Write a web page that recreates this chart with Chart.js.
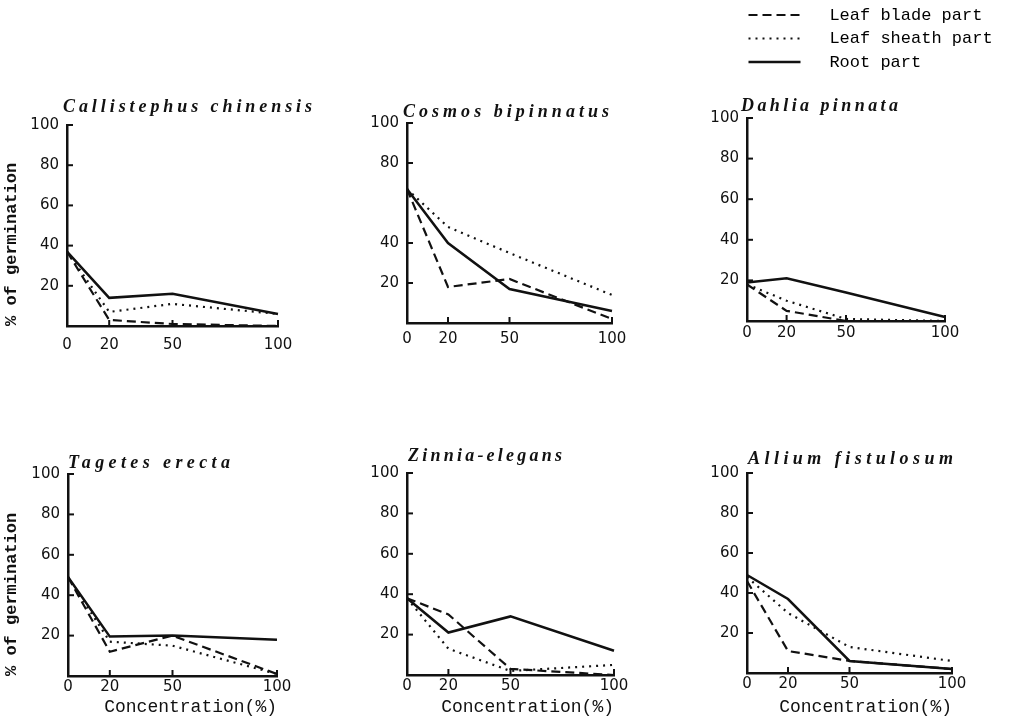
<!DOCTYPE html>
<html>
<head>
<meta charset="utf-8">
<script src="https://cdn.jsdelivr.net/npm/chart.js@4.4.1/dist/chart.umd.min.js"></script>
<style>
html, body { margin: 0; padding: 0; background: #fff; }
body { position: relative; width: 1010px; height: 717px; overflow: hidden; }
canvas { position: absolute; }
.title { position: absolute; white-space: nowrap; font: italic bold 18px "Liberation Serif", serif; color: #111; line-height: 20px; }
</style>
</head>
<body>
<script>
// concentration (%) on x, % of germination on y
const concentration = [0, 20, 50, 100];
const xTicks = [0, 20, 50, 100];
const yTicks = [20, 40, 60, 80, 100];
const yTicksCosmos = [20, 40, 80, 100];

const species = ['Callistephus chinensis', 'Cosmos bipinnatus', 'Dahlia pinnata',
                 'Tagetes erecta', 'Zinnia-elegans', 'Allium fistulosum'];
const seriesNames = ['Leaf blade part', 'Leaf sheath part', 'Root part'];

// one row per species, same order as above
const leafBlade = [
  [37, 3, 1, 0],
  [67, 18, 22, 2],
  [18, 5, 0, 0],
  [49, 12, 20, 1],
  [38, 30, 3, 0],
  [46, 11, 6, 2]
];
const leafSheath = [
  [37, 7, 11, 6],
  [67, 48, 35, 14],
  [18, 10, 1, 0],
  [49, 17, 15, 1],
  [38, 13, 2, 5],
  [48, 30, 13, 6]
];
const rootPart = [
  [37, 14, 16, 6],
  [67, 40, 17, 6],
  [19, 21, 14, 2],
  [49, 19.5, 20, 18],
  [38, 21, 29, 12],
  [49, 37, 6, 2]
];

const ink = '#111';
Chart.defaults.font.family = 'DejaVu Sans';
Chart.defaults.color = ink;

const lineStyles = [
  { borderDash: [9, 5], borderWidth: 2.2 },
  { borderDash: [2, 5], borderWidth: 2.2 },
  { borderDash: [], borderWidth: 2.5 }
];

// plot: [left, right, top (y=100), bottom (y=0)] in page px; title: [left, right, centerY]
const panels = [
  { plot: [67, 278, 125, 326], yw: 67, xh: 40, xPad: 10, yTitle: true, title: [63, 312, 106] },
  { plot: [407, 612, 123, 323], yw: 50, xh: 40, xPad: 7, cosmos: true, title: [403, 609, 111] },
  { plot: [747, 945, 118, 321], yw: 50, xh: 40, xPad: 3, title: [741, 898, 105] },
  { plot: [68, 277, 474, 676], yw: 68, xh: 42, xPad: 2, yTitle: true, xTitle: true, title: [68, 230, 462] },
  { plot: [407, 614, 473, 675], yw: 50, xh: 43, xPad: 2, xTitle: true, title: [408, 562, 455] },
  { plot: [747, 952, 473, 673], yw: 50, xh: 45, xPad: 2, xTitle: true, title: [748, 953, 458] }
];

// short tick marks pointing into the plot
const inwardTicks = {
  id: 'inwardTicks',
  afterDatasetsDraw(chart) {
    const { ctx, chartArea, scales: { x, y } } = chart;
    ctx.save();
    ctx.strokeStyle = ink;
    ctx.lineWidth = 2;
    y.ticks.forEach(t => {
      const py = y.getPixelForValue(t.value);
      ctx.beginPath();
      ctx.moveTo(chartArea.left, py);
      ctx.lineTo(chartArea.left + 6, py);
      ctx.stroke();
    });
    x.ticks.forEach(t => {
      const px = x.getPixelForValue(t.value);
      ctx.beginPath();
      ctx.moveTo(px, chartArea.bottom);
      ctx.lineTo(px, chartArea.bottom - 6);
      ctx.stroke();
    });
    ctx.restore();
  }
};

panels.forEach((p, i) => {
  const [x0, x1, yT, yB] = p.plot;
  const padTop = 20, padR = 30;   // roomy enough that Chart.js adds no label padding of its own
  const cv = document.createElement('canvas');
  cv.width = x1 - x0 + p.yw + padR;
  cv.height = yB - yT + padTop + p.xh;
  cv.style.left = (x0 - p.yw) + 'px';
  cv.style.top = (yT - padTop) + 'px';
  document.body.appendChild(cv);

  const series = [leafBlade[i], leafSheath[i], rootPart[i]];
  const yt = p.cosmos ? yTicksCosmos : yTicks;

  new Chart(cv, {
    type: 'line',
    data: {
      datasets: series.map((vals, k) => ({
        label: seriesNames[k],
        data: vals.map((v, j) => ({ x: concentration[j], y: v })),
        borderColor: ink,
        ...lineStyles[k],
        pointRadius: 0,
        tension: 0,
        fill: false,
        clip: false
      }))
    },
    options: {
      responsive: false,
      animation: false,
      layout: { padding: { top: padTop, right: padR, left: 0, bottom: 0 } },
      plugins: { legend: { display: false }, tooltip: { enabled: false } },
      scales: {
        x: {
          type: 'linear', min: 0, max: 100,
          afterBuildTicks: s => { s.ticks = xTicks.map(v => ({ value: v })); },
          afterFit: s => { s.height = p.xh; },
          grid: { display: false, drawTicks: false },
          border: { display: true, color: ink, width: 2.5 },
          ticks: { padding: p.xPad, font: { size: 15 }, maxRotation: 0, autoSkip: false },
          title: {
            display: !!p.xTitle, text: 'Concentration(%)', align: 'end', padding: 0,
            font: { family: 'Liberation Mono', size: 18 }
          }
        },
        y: {
          type: 'linear', min: 0, max: 100,
          afterBuildTicks: s => { s.ticks = yt.map(v => ({ value: v })); },
          afterFit: s => { s.width = p.yw; },
          grid: { display: false, drawTicks: false },
          border: { display: true, color: ink, width: 2.5 },
          ticks: { padding: 8, font: { size: 15 }, autoSkip: false },
          title: {
            display: !!p.yTitle, text: '% of germination', align: 'start', padding: { top: 2, bottom: 0 },
            font: { family: 'Liberation Mono', size: 17, weight: 'bold' }
          }
        }
      }
    },
    plugins: [inwardTicks]
  });
});

// species titles, spread to the width they take in the figure
const measure = document.createElement('canvas').getContext('2d');
measure.font = 'italic bold 18px "Liberation Serif"';
panels.forEach((p, i) => {
  const [tl, tr, ty] = p.title;
  const d = document.createElement('div');
  d.className = 'title';
  d.textContent = species[i];
  const natural = measure.measureText(species[i]).width;
  d.style.letterSpacing = ((tr - tl - natural) / (species[i].length - 1)) + 'px';
  d.style.left = tl + 'px';
  d.style.top = (ty - 10) + 'px';
  document.body.appendChild(d);
});

// shared legend, top right
const lg = document.createElement('canvas');
lg.width = 268;
lg.height = 150;
lg.style.left = '742px';
lg.style.top = '0px';
document.body.appendChild(lg);
new Chart(lg, {
  type: 'line',
  data: {
    datasets: seriesNames.map((name, k) => ({
      label: name, data: [], borderColor: ink, ...lineStyles[k], pointRadius: 0
    }))
  },
  options: {
    responsive: false,
    animation: false,
    scales: { x: { display: false }, y: { display: false } },
    plugins: {
      tooltip: { enabled: false },
      legend: {
        position: 'top',
        align: 'start',
        labels: {
          usePointStyle: true,
          pointStyle: 'line',
          pointStyleWidth: 52,
          padding: 6.5,
          font: { family: 'Liberation Mono', size: 17 },
          generateLabels: chart => chart.data.datasets.map((ds, k) => ({
            text: '  ' + ds.label,
            strokeStyle: ink,
            fillStyle: 'transparent',
            lineWidth: ds.borderWidth,
            lineDash: ds.borderDash,
            pointStyle: 'line',
            hidden: false,
            datasetIndex: k
          }))
        }
      }
    }
  }
});
</script>
</body>
</html>
